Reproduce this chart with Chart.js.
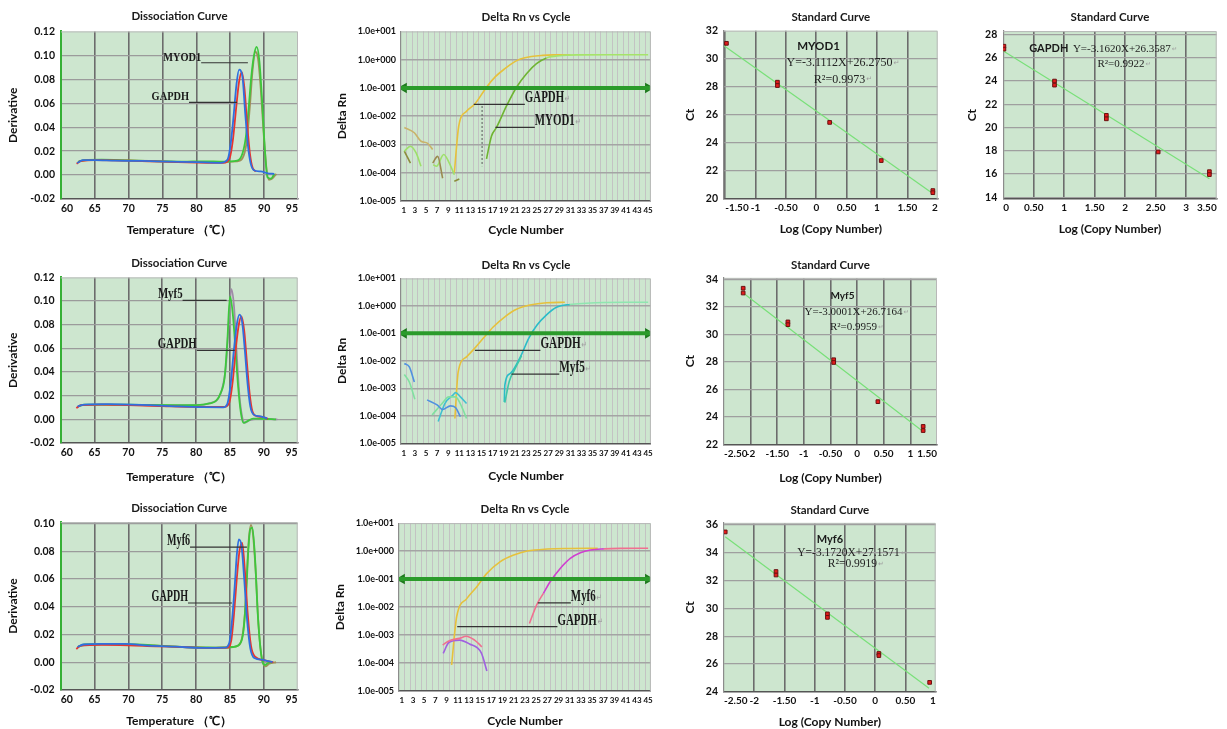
<!DOCTYPE html>
<html lang="en">
<head>
<meta charset="utf-8">
<title>qPCR dissociation, amplification and standard curves</title>
<script src="https://cdn.jsdelivr.net/npm/chart.js@4.4.1/dist/chart.umd.min.js"></script>
<style>
  html, body { margin: 0; padding: 0; background: #fff; }
  body { position: relative; width: 1227px; height: 729px; overflow: hidden; }
  canvas { position: absolute; display: block; }
</style>
</head>
<body>
<script>
const SANS = 'Lato, "Open Sans", sans-serif';
const SERIF = '"Liberation Serif", "DejaVu Serif", serif';

// ---------- tick values ----------
const meltTempTicks = [60, 65, 70, 75, 80, 85, 90, 95];
const meltDerivTicks = [-0.02, 0, 0.02, 0.04, 0.06, 0.08, 0.10, 0.12];
const meltDerivTicksLow = [-0.02, 0, 0.02, 0.04, 0.06, 0.08, 0.10];
const ampRnTicks = [1e-5, 1e-4, 1e-3, 1e-2, 1e-1, 1e0, 1e1];
const ampCycleLabels = [1, 3, 5, 7, 9, 11, 13, 15, 17, 19, 21, 23, 25, 27, 29, 31, 33, 35, 37, 39, 41, 43, 45];
const ampThreshold = 0.1;
const std1LogTicks = [-1.5, -1, -0.5, 0, 0.5, 1, 1.5, 2];
const std1CtTicks = [20, 22, 24, 26, 28, 30, 32];
const std2LogTicks = [0, 0.5, 1, 1.5, 2, 2.5, 3, 3.5];
const std2CtTicks = [14, 16, 18, 20, 22, 24, 26, 28];
const std3LogTicks = [-2.5, -2, -1.5, -1, -0.5, 0, 0.5, 1, 1.5];
const std3CtTicks = [22, 24, 26, 28, 30, 32, 34];
const std4LogTicks = [-2.5, -2, -1.5, -1, -0.5, 0, 0.5, 1];
const std4CtTicks = [24, 26, 28, 30, 32, 34, 36];

// ---------- dissociation curves: MYOD1 / GAPDH ----------
const m1GapdhBlueT = [62.4, 63.2, 65, 68, 72, 76, 80, 83.5, 84.6, 85.1, 85.5, 85.9, 86.3, 86.8, 87.2, 87.6, 88.0, 88.5, 89.5, 90.5, 91.5];
const m1GapdhBlueD = [0.010, 0.0125, 0.0125, 0.012, 0.0118, 0.0112, 0.0108, 0.0102, 0.013, 0.028, 0.050, 0.075, 0.088, 0.082, 0.052, 0.025, 0.010, 0.004, 0.003, 0.0015, 0.001];
const m1GapdhRedT = [62.3, 63, 65, 70, 75, 80, 84, 84.9, 85.4, 85.9, 86.3, 86.7, 87.1, 87.5, 87.9, 88.3, 88.8];
const m1GapdhRedD = [0.0095, 0.0118, 0.0125, 0.012, 0.0112, 0.0105, 0.0102, 0.014, 0.030, 0.058, 0.078, 0.086, 0.072, 0.042, 0.018, 0.006, 0.003];
const m1MyodGreenT = [62.5, 63.5, 66, 70, 75, 78, 81, 84, 86, 86.8, 87.3, 87.7, 88.1, 88.5, 88.9, 89.3, 89.7, 90.1, 90.5, 91, 91.5];
const m1MyodGreenD = [0.011, 0.0125, 0.0128, 0.0122, 0.0115, 0.0112, 0.0115, 0.0112, 0.012, 0.018, 0.032, 0.055, 0.082, 0.100, 0.107, 0.095, 0.062, 0.022, -0.002, -0.003, 0.001];
const m1MyodOliveT = [62.6, 64, 67, 71, 75, 79, 83, 86, 86.8, 87.4, 87.9, 88.3, 88.7, 89.1, 89.5, 89.9, 90.3, 90.7, 91.2, 91.8];
const m1MyodOliveD = [0.0115, 0.0125, 0.0125, 0.012, 0.0115, 0.011, 0.011, 0.0115, 0.014, 0.027, 0.058, 0.088, 0.103, 0.097, 0.072, 0.037, 0.008, -0.004, -0.003, 0.001];

// ---------- dissociation curves: Myf5 / GAPDH ----------
const m2Myf5GreenT = [62.6, 63.5, 67, 72, 77, 80, 82, 83, 83.6, 84.2, 84.6, 85.0, 85.4, 85.8, 86.2, 86.6, 87.0, 87.6, 88.4, 90, 91.8];
const m2Myf5GreenD = [0.011, 0.0125, 0.0125, 0.0122, 0.012, 0.012, 0.0135, 0.016, 0.022, 0.035, 0.065, 0.104, 0.090, 0.060, 0.028, 0.006, -0.003, -0.0015, 0.0006, 0.0005, 0];
const m2Myf5MauveT = [62.4, 63.3, 66, 70, 75, 80, 82.2, 83.2, 83.8, 84.4, 84.8, 85.2, 85.6, 86.0, 86.4, 86.8, 87.2, 87.8, 89, 92];
const m2Myf5MauveD = [0.0105, 0.012, 0.0125, 0.0123, 0.0118, 0.012, 0.014, 0.017, 0.025, 0.045, 0.080, 0.110, 0.095, 0.055, 0.020, 0.002, -0.003, -0.001, 0.0005, 0];
const m2GapdhBlueT = [62.5, 63.5, 67, 72, 77, 81, 84, 84.6, 85.1, 85.6, 86.0, 86.4, 86.8, 87.2, 87.6, 88.0, 88.5, 89.5, 90.5];
const m2GapdhBlueD = [0.011, 0.0125, 0.0128, 0.0122, 0.011, 0.0103, 0.0102, 0.013, 0.030, 0.060, 0.080, 0.0885, 0.082, 0.058, 0.030, 0.011, 0.004, 0.0025, 0.0008];
const m2GapdhRedT = [62.3, 63, 66, 70, 75, 79, 84.2, 84.9, 85.4, 85.9, 86.3, 86.7, 87.1, 87.5, 87.9, 88.3, 88.8, 89.8, 90.6];
const m2GapdhRedD = [0.0095, 0.012, 0.0125, 0.012, 0.0112, 0.0105, 0.0105, 0.014, 0.032, 0.062, 0.080, 0.087, 0.075, 0.048, 0.022, 0.007, 0.003, 0.002, 0.0005];

// ---------- dissociation curves: Myf6 / GAPDH ----------
const m3GapdhBlueT = [62.5, 63.3, 66, 69.5, 73, 77, 81, 84.3, 84.9, 85.3, 85.7, 86.0, 86.3, 86.7, 87.1, 87.5, 88.0, 88.6, 89.9, 90.4, 91.3];
const m3GapdhBlueD = [0.011, 0.0128, 0.0132, 0.0132, 0.012, 0.0112, 0.0103, 0.0105, 0.014, 0.030, 0.055, 0.077, 0.0885, 0.084, 0.060, 0.032, 0.010, 0.003, 0.0017, 0.001, 0.0003];
const m3GapdhRedT = [62.3, 63, 66, 70, 74, 78, 82, 84.6, 85.2, 85.6, 86.0, 86.4, 86.8, 87.2, 87.6, 88.1, 88.7, 90, 91.4];
const m3GapdhRedD = [0.0095, 0.012, 0.0125, 0.0122, 0.0115, 0.011, 0.0104, 0.0105, 0.016, 0.035, 0.060, 0.080, 0.086, 0.066, 0.036, 0.012, 0.004, 0.0015, 0];
const m3Myf6GreenT = [62.5, 63.5, 67, 71, 75, 79, 83, 85.5, 86.5, 87.0, 87.4, 87.7, 88.0, 88.3, 88.7, 89.1, 89.5, 89.9, 90.2, 90.6, 91.2];
const m3Myf6GreenD = [0.011, 0.0128, 0.013, 0.0128, 0.0118, 0.0108, 0.0105, 0.011, 0.0135, 0.023, 0.050, 0.080, 0.096, 0.097, 0.075, 0.035, 0.010, -0.001, -0.002, -0.0005, 0];
const m3Myf6OliveT = [62.6, 64, 68, 72, 76, 80, 84, 86.2, 86.8, 87.2, 87.5, 87.8, 88.1, 88.4, 88.8, 89.2, 89.6, 90.0, 90.3, 90.8, 91.8];
const m3Myf6OliveD = [0.0115, 0.0128, 0.013, 0.0125, 0.0115, 0.0105, 0.0105, 0.012, 0.018, 0.035, 0.065, 0.090, 0.099, 0.092, 0.065, 0.028, 0.006, -0.002, -0.003, -0.001, 0];

// ---------- amplification (cycle → delta Rn): MYOD1 / GAPDH ----------
const a1GapdhC = [10.1, 10.9, 12.3, 13.8, 15.9, 17.5, 19.2, 21.0, 22.0, 24.0, 26.0, 28.0, 31.0];
const a1GapdhV = [1e-4, 4.5e-3, 1.5e-2, 2.7e-2, 0.106, 0.25, 0.48, 0.85, 1.06, 1.3, 1.42, 1.48, 1.5];
const a1MyodC = [15.9, 16.8, 17.7, 19.5, 21.3, 23.1, 24.9, 26.7, 29.0, 33.0, 38.0, 45.0];
const a1MyodV = [3.1e-4, 2e-3, 4e-3, 2.3e-2, 0.106, 0.32, 0.72, 1.15, 1.38, 1.48, 1.5, 1.5];
const a1NoiseAC = [1.1, 2.9, 4.1, 5.3, 6.2];
const a1NoiseAV = [4e-3, 2.6e-3, 1.3e-3, 1.1e-3, 6.6e-4];
const a1NoiseBC = [1.1, 2.2, 3.2, 4.1];
const a1NoiseBV = [5.8e-4, 8.7e-4, 5.1e-4, 1.7e-4];
const a1NoiseCC = [1.1, 2.2];
const a1NoiseCV = [5.8e-4, 2.2e-4];
const a1NoiseDC = [6.2, 7.1, 8.0];
const a1NoiseDV = [2.2e-4, 3.8e-4, 6.4e-5];
const a1NoiseEC = [6.3, 6.9, 8.2, 9.2, 10.1];
const a1NoiseEV = [1.9e-4, 1.7e-4, 4.4e-4, 2.2e-4, 8.5e-5];
const a1NoiseFC = [10.1, 11.0];
const a1NoiseFV = [5e-5, 6e-5];
const a1CtMarkC = [15.1, 15.1];
const a1CtMarkV = [2.3e-2, 1.7e-4];

// ---------- amplification: Myf5 / GAPDH ----------
const a2GapdhC = [10.2, 10.8, 12.3, 13.5, 15.3, 17.1, 19.2, 21.3, 23.7, 26.7, 30.0];
const a2GapdhV = [8e-5, 4e-3, 1.4e-2, 2.5e-2, 6.6e-2, 0.17, 0.40, 0.75, 1.07, 1.3, 1.35];
const a2Myf5C = [19.1, 19.2, 20.2, 22.0, 23.5, 25.0, 26.7, 28.5, 30.9, 33.9, 37.0, 41.0, 45.0];
const a2Myf5V = [3.2e-4, 1.3e-3, 3.5e-3, 1.4e-2, 6.6e-2, 0.2, 0.47, 0.89, 1.13, 1.25, 1.33, 1.36, 1.36];
const a2Myf5bC = [19.2, 20.0, 21.0, 22.2];
const a2Myf5bV = [3e-4, 1.8e-3, 5e-3, 1.5e-2];
const a2NoiseAC = [1.1, 2.0, 2.9];
const a2NoiseAV = [8e-3, 6e-3, 1.7e-3];
const a2NoiseBC = [1.1, 2.0, 3.0];
const a2NoiseBV = [3.2e-3, 1.7e-3, 4e-4];
const a2NoiseCC = [5.2, 7.0, 8.0, 9.4, 10.3, 11.2];
const a2NoiseCV = [3.8e-4, 2.5e-4, 1.7e-4, 2.3e-4, 2e-4, 9.3e-5];
const a2NoiseDC = [6.1, 7.9, 9.1, 10.3, 11.5, 12.3];
const a2NoiseDV = [1.07e-4, 2.8e-4, 4.9e-4, 4.9e-4, 2e-4, 8e-5];
const a2NoiseEC = [7.2, 8.4, 9.9, 10.3, 11.2, 12.3];
const a2NoiseEV = [6.2e-5, 2.8e-4, 5.8e-4, 7e-4, 4.9e-4, 2.8e-4];

// ---------- amplification: Myf6 / GAPDH ----------
const a3GapdhC = [9.9, 10.8, 12.6, 14.4, 16.2, 18.6, 21.0, 23.4, 27.0, 31.0, 36.0];
const a3GapdhV = [8.5e-5, 4.5e-3, 2e-2, 5.3e-2, 0.16, 0.42, 0.72, 1.0, 1.18, 1.24, 1.26];
const a3Myf6C = [23.8, 25.1, 26.3, 27.5, 29.3, 31.1, 32.9, 34.7, 37.1, 40.0, 45.0];
const a3Myf6V = [2.6e-3, 1.2e-2, 3.1e-2, 8e-2, 0.24, 0.55, 0.87, 1.09, 1.2, 1.25, 1.26];
const a3NoiseAC = [8.3, 9.5, 11.3, 12.5, 14.0, 15.3];
const a3NoiseAV = [4.4e-4, 6.3e-4, 7.6e-4, 9.1e-4, 6.6e-4, 3.8e-4];
const a3NoiseBC = [8.4, 9.4, 11.3, 13.1, 15.2, 16.2];
const a3NoiseBV = [2.2e-4, 5.4e-4, 6.6e-4, 4.8e-4, 2.3e-4, 5.2e-5];

// ---------- standard curves (log copy number → Ct) ----------
const s1Log = [-1.48, -0.64, -0.64, 0.22, 1.07, 1.92, 1.92];
const s1Ct = [31.1, 28.33, 28.09, 25.46, 22.74, 20.6, 20.45];
const s1FitLog = [-1.53, 1.93];
const s1FitCt = [30.95, 20.35];
const s2Log = [0.01, 0.01, 0.84, 0.84, 1.69, 1.69, 2.54, 3.38, 3.38];
const s2Ct = [27.0, 26.75, 24.0, 23.65, 21.05, 20.75, 17.9, 16.2, 15.95];
const s2FitLog = [0.0, 3.38];
const s2FitCt = [26.58, 15.6];
const s3Log = [-2.14, -2.14, -1.30, -1.30, -0.44, -0.44, 0.39, 1.24, 1.24];
const s3Ct = [33.35, 33.0, 30.9, 30.7, 28.15, 27.95, 25.1, 23.3, 23.0];
const s3FitLog = [-2.17, 1.25];
const s3FitCt = [33.1, 22.9];
const s4Log = [-2.48, -1.64, -1.64, -0.79, -0.79, 0.06, 0.06, 0.90];
const s4Ct = [35.5, 32.65, 32.4, 29.6, 29.35, 26.75, 26.6, 24.67];
const s4FitLog = [-2.48, 0.89];
const s4FitCt = [35.15, 24.25];

// ---------- panel geometry (plot box, title centres) ----------
const LAYOUT = {
  c1:  {L: 61,     T: 32,    R: 298,    B: 199,   tY: 17,    xY: 230,   yX: 13.3},
  c2:  {L: 401,    T: 32,    R: 651,    B: 201,   tY: 18,    xY: 230,   yX: 341.7},
  c3:  {L: 724,    T: 31.3,  R: 937.7,  B: 199,   tY: 18,    xY: 229.3, yX: 690},
  c4:  {L: 1003.3, T: 31.7,  R: 1216.7, B: 199,   tY: 18,    xY: 229,   yX: 971.7},
  c5:  {L: 60.7,   T: 278,   R: 297.7,  B: 443,   tY: 263.3, xY: 476.7, yX: 13.3},
  c6:  {L: 401,    T: 279,   R: 651,    B: 443.3, tY: 265.7, xY: 475.7, yX: 341.7},
  c7:  {L: 724,    T: 278.5, R: 937,    B: 444.3, tY: 265.7, xY: 477.7, yX: 690},
  c8:  {L: 60.7,   T: 522.7, R: 297.7,  B: 690,   tY: 508.3, xY: 721,   yX: 13.3},
  c9:  {L: 399,    T: 523.7, R: 651,    B: 691,   tY: 510,   xY: 721,   yX: 340},
  c10: {L: 724,    T: 523.5, R: 935.7,  B: 691.7, tY: 510.7, xY: 722.3, yX: 690},
};

const KIND = {
  melt: {xTick: 10.5, yTick: 10.5, xPad: 3, yPad: 6, vCol: '#6c6c6c', vW: 1.6, hCol: '#9b9b9b', hW: 1.3, left: '#35b035', leftW: 2, lineW: 1.8},
  amp:  {xTick: 8,    yTick: 9,    xPad: 5, yPad: 5, vCol: '#c3c3c3', vW: 1,   hCol: '#a4a4a4', hW: 1.6, left: '#8c8c8c', leftW: 1.2, lineW: 1.6},
  std:  {xTick: 10,   yTick: 10.5, xPad: 3, yPad: 6, vCol: '#6c6c6c', vW: 1.6, hCol: '#9f9f9f', hW: 1.2, left: '#8c8c8c', leftW: 1.2, lineW: 1.2},
};

function frame(p) {
  const left = Math.floor(p.yX - 7.2);
  const top = Math.floor(p.tY - 7.2);
  const right = Math.ceil(p.R + 6);
  const bottom = Math.ceil(p.xY + 7.2);
  const w = right - left, h = bottom - top;
  const cv = document.createElement('canvas');
  cv.width = w; cv.height = h;
  cv.style.left = left + 'px'; cv.style.top = top + 'px';
  cv.style.width = w + 'px'; cv.style.height = h + 'px';
  document.body.appendChild(cv);
  const tPt = p.tY - 7.2 - top;
  return {
    cv,
    yW: p.L - left,
    xH: bottom - p.B,
    padR: right - p.R,
    tPt: tPt,
    tPb: p.T - top - tPt - 14.4,
    yPt: p.yX - 7.2 - left,
    xPb: bottom - 7.2 - p.xY,
  };
}

function pts(xs, ys) {
  return xs.map((x, i) => ({x: x, y: ys[i]}));
}

function curve(xs, ys, color, extra) {
  return Object.assign({
    data: pts(xs, ys),
    borderColor: color, pointRadius: 0,
    cubicInterpolationMode: 'monotone', fill: false,
  }, extra || {});
}

function leader(xs, y, extra) {
  return Object.assign({
    data: pts(xs, xs.map(() => y)),
    borderColor: '#333', borderWidth: 1.2, pointRadius: 0, order: -2,
  }, extra || {});
}

function thresholdSets() {
  return [
    {data: pts([0.5, 45.5], [ampThreshold, ampThreshold]), borderColor: '#2b9b2b', borderWidth: 4, pointRadius: 0, order: -1},
    {data: pts([1, 45], [ampThreshold, ampThreshold]), showLine: false, pointStyle: 'triangle',
     pointRotation: [-90, 90], pointRadius: 4.5, pointBackgroundColor: '#2b9b2b', pointBorderColor: '#1d7a1d', order: -1},
  ];
}

function scatter(xs, ys) {
  return {data: pts(xs, ys), showLine: false, pointStyle: 'rect', pointRadius: 2.6,
    pointBackgroundColor: '#e31b1b', pointBorderColor: '#6a1212', pointBorderWidth: 1, order: -1};
}

// background of the plot box plus thin top/right frame
const plotBg = {
  id: 'plotBg',
  beforeDraw(chart) {
    const {ctx, chartArea: a} = chart;
    ctx.save();
    ctx.fillStyle = '#cde6cf';
    ctx.fillRect(a.left, a.top, a.width, a.height);
    ctx.restore();
  },
  afterDraw(chart) {
    const {ctx, chartArea: a} = chart;
    ctx.save();
    ctx.strokeStyle = '#b8b8b8';
    ctx.lineWidth = 1;
    ctx.beginPath();
    ctx.moveTo(a.left, a.top + 0.5);
    ctx.lineTo(a.right - 0.5, a.top + 0.5);
    ctx.lineTo(a.right - 0.5, a.bottom);
    ctx.stroke();
    ctx.restore();
  }
};

// gene labels and regression text, anchored in data space
const notesPlugin = {
  id: 'notes',
  afterDatasetsDraw(chart, args, opts) {
    const {ctx} = chart;
    const xs = chart.scales.x, ys = chart.scales.y;
    (opts.items || []).forEach(n => {
      const px = xs.getPixelForValue(n.x);
      const py = ys.getPixelForValue(n.y) + (n.dy || 0);
      ctx.save();
      ctx.font = (n.weight || 'normal') + ' ' + n.size + 'px ' + n.family;
      ctx.fillStyle = n.color || '#1a1a1a';
      ctx.textAlign = n.align || 'center';
      ctx.textBaseline = n.base || 'alphabetic';
      ctx.translate(px, py);
      ctx.scale(n.sx || 1, 1);
      ctx.fillText(n.text, 0, 0);
      if (n.mark) {
        const w = ctx.measureText(n.text).width;
        const end = ctx.textAlign === 'left' ? w : ctx.textAlign === 'center' ? w / 2 : 0;
        ctx.font = (n.size * 0.6) + 'px "DejaVu Sans"';
        ctx.fillStyle = '#a0a0a0';
        ctx.textAlign = 'left';
        ctx.fillText('\u21B5', end + 1, 0);
      }
      ctx.restore();
    });
  }
};

const fmt2 = v => v.toFixed(2);
const fmtLog = v => {
  const e = Math.round(Math.log10(v));
  return '1.0e' + (e < 0 ? '-' : '+') + String(Math.abs(e)).padStart(3, '0');
};
const fmtStd = v => Number.isInteger(v) ? String(v) : v.toFixed(2);

function makeChart(id, kind, titles, sc, datasets, notes) {
  const f = frame(LAYOUT[id]);
  const k = KIND[kind];
  const axisFont = {family: SANS, size: 12, weight: 'bold'};
  const clear = 'rgba(0,0,0,0)';
  const near = (a, b) => Math.abs(a - b) < 1e-9 * Math.max(1, Math.abs(b));
  const isEdge = (v, lo, hi) => near(v, lo) || near(v, hi);
  datasets.forEach(d => { if (d.borderWidth === undefined) d.borderWidth = k.lineW; });

  return new Chart(f.cv, {
    type: 'line',
    data: {datasets: datasets},
    options: {
      responsive: false,
      animation: false,
      events: [],
      layout: {padding: {left: 0, top: 0, right: f.padR, bottom: 0}},
      plugins: {
        legend: {display: false},
        tooltip: {enabled: false},
        title: {
          display: true, text: titles[0], fullSize: false, color: '#1a1a1a',
          font: {family: SANS, size: 11.5, weight: 'bold'},
          padding: {top: f.tPt, bottom: f.tPb}
        },
        notes: {items: notes}
      },
      scales: {
        x: {
          type: 'linear', min: sc.xMin, max: sc.xMax,
          afterBuildTicks: s => { s.ticks = sc.xTicks.map(v => ({value: v})); },
          afterFit: s => { s.height = f.xH; },
          ticks: {
            autoSkip: false, maxRotation: 0, minRotation: 0, align: 'inner',
            padding: k.xPad, color: '#111', font: {family: SANS, size: k.xTick, weight: 'bold'}, callback: sc.xFmt
          },
          grid: {
            drawTicks: false, lineWidth: k.vW,
            color: c => {
              const v = c.tick ? c.tick.value : NaN;
              if (isEdge(v, sc.xMin, sc.xMax)) return clear;
              if (sc.xGridShow && !sc.xGridShow(v)) return clear;
              return k.vCol;
            }
          },
          border: {color: '#555', width: 1.5},
          title: {display: true, text: titles[1], color: '#111', font: axisFont, padding: {top: 0, bottom: f.xPb}}
        },
        y: {
          type: sc.yType || 'linear', min: sc.yMin, max: sc.yMax,
          afterBuildTicks: s => { s.ticks = sc.yTicks.map(v => ({value: v})); },
          afterFit: s => { s.width = f.yW; },
          ticks: {padding: k.yPad, color: '#111', font: {family: SANS, size: k.yTick, weight: 'bold'}, callback: sc.yFmt},
          grid: {
            drawTicks: false, lineWidth: k.hW,
            color: c => (c.tick && isEdge(c.tick.value, sc.yMin, sc.yMax)) ? clear : k.hCol
          },
          border: {color: k.left, width: k.leftW},
          title: {display: true, text: titles[2], color: '#111', font: axisFont, padding: {top: f.yPt, bottom: 0}}
        }
      }
    },
    plugins: [plotBg, notesPlugin]
  });
}

// ---------- helpers for the three panel types ----------
const MELT_TITLES = ['Dissociation Curve', 'Temperature \uFF08\u2103\uFF09', 'Derivative'];
const AMP_TITLES = ['Delta Rn vs Cycle', 'Cycle Number', 'Delta Rn'];
const STD_TITLES = ['Standard Curve', 'Log (Copy Number)', 'Ct'];

const ampTickVals = [];
for (let c = 0.5; c <= 45.5; c += 0.5) ampTickVals.push(c);
const ampScales = {
  xMin: 0.5, xMax: 45.5, xTicks: ampTickVals,
  xFmt: v => ampCycleLabels.includes(v) ? String(v) : '',
  xGridShow: v => !Number.isInteger(v),
  yType: 'logarithmic', yMin: 1e-5, yMax: 1e1, yTicks: ampRnTicks, yFmt: fmtLog
};

function leftLabel(text, x, y, size, sx) {
  return {x: x, y: y, dy: -2, text: text, align: 'left', size: size, sx: sx, family: SERIF, weight: 'bold', mark: true};
}
function rightLabel(text, x, y, size, sx) {
  return {x: x, y: y, dy: -2, text: text, align: 'right', size: size, sx: sx, family: SERIF, weight: 'bold'};
}
function stdNotes(gene, gx, gy, gSize, eq, r2, ex, ey, rx, ry, eSize) {
  return [
    {x: gx, y: gy, text: gene, base: 'middle', size: gSize, family: SANS, weight: 'bold'},
    {x: ex, y: ey, text: eq, base: 'middle', size: eSize, family: SERIF, mark: true, color: '#222'},
    {x: rx, y: ry, text: r2, base: 'middle', size: eSize, family: SERIF, mark: true, color: '#222'},
  ];
}

// ---------- row 1 ----------
makeChart('c1', 'melt', MELT_TITLES,
  {xMin: 60, xMax: 95, xTicks: meltTempTicks, xFmt: v => String(v), yMin: -0.02, yMax: 0.12, yTicks: meltDerivTicks, yFmt: fmt2},
  [
    curve(m1GapdhBlueT, m1GapdhBlueD, '#2f6fe0'),
    curve(m1GapdhRedT, m1GapdhRedD, '#e8352f'),
    curve(m1MyodGreenT, m1MyodGreenD, '#3cc83c'),
    curve(m1MyodOliveT, m1MyodOliveD, '#a0905a'),
    leader([80.7, 87.6], 0.0938),
    leader([78.9, 86.0], 0.0607),
  ],
  [rightLabel('MYOD1', 80.7, 0.0938, 11.5, 0.9), rightLabel('GAPDH', 78.9, 0.0607, 11.5, 0.9)]
);

makeChart('c2', 'amp', AMP_TITLES, ampScales,
  [
    curve(a1NoiseAC, a1NoiseAV, '#c9b36a'),
    curve(a1NoiseBC, a1NoiseBV, '#9ee06a'),
    curve(a1NoiseCC, a1NoiseCV, '#8c8c3c'),
    curve(a1NoiseDC, a1NoiseDV, '#9a8a50'),
    curve(a1NoiseEC, a1NoiseEV, '#9ee06a'),
    curve(a1NoiseFC, a1NoiseFV, '#8c8c3c'),
    curve(a1MyodC, a1MyodV, '#6fb432', {segment: {borderColor: c => c.p0.parsed.x >= 26.7 ? '#a6e46a' : undefined}}),
    curve(a1GapdhC, a1GapdhV, '#e6c13c'),
    ...thresholdSets(),
    leader([13.6, 22.8], 2.6e-2),
    leader([17.5, 24.6], 4e-3),
    leader(a1CtMarkC, 0, {data: pts(a1CtMarkC, a1CtMarkV), borderDash: [2, 2], borderColor: '#555', borderWidth: 1}),
  ],
  [leftLabel('GAPDH', 22.8, 2.6e-2, 16, 0.68), leftLabel('MYOD1', 24.6, 4e-3, 16, 0.68)]
);

makeChart('c3', 'std', STD_TITLES,
  {xMin: -1.52, xMax: 2.0, xTicks: std1LogTicks, xFmt: fmtStd, yMin: 20, yMax: 32, yTicks: std1CtTicks, yFmt: v => String(v)},
  [curve(s1FitLog, s1FitCt, '#79e079'), scatter(s1Log, s1Ct)],
  stdNotes('MYOD1', 0.037, 30.9, 11.5, 'Y=-3.1112X+26.2750', 'R\u00B2=0.9973', 0.383, 29.71, 0.383, 28.52, 12)
);

makeChart('c4', 'std', STD_TITLES,
  {xMin: 0, xMax: 3.5, xTicks: std2LogTicks, xFmt: fmtStd, yMin: 13.85, yMax: 28.3, yTicks: std2CtTicks, yFmt: v => String(v)},
  [curve(s2FitLog, s2FitCt, '#79e079'), scatter(s2Log, s2Ct)],
  stdNotes('GAPDH', 0.746, 26.78, 11, 'Y=-3.1620X+26.3587', 'R\u00B2=0.9922', 1.945, 26.72, 1.93, 25.42, 11)
);

// ---------- row 2 ----------
makeChart('c5', 'melt', MELT_TITLES,
  {xMin: 60, xMax: 95, xTicks: meltTempTicks, xFmt: v => String(v), yMin: -0.02, yMax: 0.12, yTicks: meltDerivTicks, yFmt: fmt2},
  [
    curve(m2GapdhBlueT, m2GapdhBlueD, '#2f6fe0'),
    curve(m2GapdhRedT, m2GapdhRedD, '#e8352f'),
    curve(m2Myf5GreenT, m2Myf5GreenD, '#3cc83c'),
    curve(m2Myf5MauveT, m2Myf5MauveD, '#a08aa8'),
    leader([78.0, 84.5], 0.1005),
    leader([80.1, 85.7], 0.0583),
  ],
  [rightLabel('Myf5', 78.0, 0.1005, 15.5, 0.7), rightLabel('GAPDH', 80.1, 0.0583, 15.5, 0.7)]
);

makeChart('c6', 'amp', AMP_TITLES, ampScales,
  [
    curve(a2NoiseAC, a2NoiseAV, '#5090e0'),
    curve(a2NoiseBC, a2NoiseBV, '#80e0a0'),
    curve(a2NoiseCC, a2NoiseCV, '#5090e0'),
    curve(a2NoiseDC, a2NoiseDV, '#80e0a0'),
    curve(a2NoiseEC, a2NoiseEV, '#40c0d0'),
    curve(a2Myf5bC, a2Myf5bV, '#3fc7a8'),
    curve(a2Myf5C, a2Myf5V, '#2bbcc8', {segment: {borderColor: c => c.p0.parsed.x >= 30.9 ? '#8fe6b0' : undefined}}),
    curve(a2GapdhC, a2GapdhV, '#e6c13c'),
    ...thresholdSets(),
    leader([13.8, 25.6], 2.4e-2),
    leader([20.4, 29.0], 3.3e-3),
  ],
  [leftLabel('GAPDH', 25.6, 2.4e-2, 16, 0.7), leftLabel('Myf5', 29.0, 3.3e-3, 16, 0.7)]
);

makeChart('c7', 'std', STD_TITLES,
  {xMin: -2.5, xMax: 1.5, xTicks: std3LogTicks, xFmt: fmtStd, yMin: 22, yMax: 34.1, yTicks: std3CtTicks, yFmt: v => String(v)},
  [curve(s3FitLog, s3FitCt, '#79e079'), scatter(s3Log, s3Ct)],
  stdNotes('Myf5', -0.275, 32.83, 10, 'Y=-3.0001X+26.7164', 'R\u00B2=0.9959', -0.068, 31.58, -0.068, 30.53, 11)
);

// ---------- row 3 ----------
makeChart('c8', 'melt', MELT_TITLES,
  {xMin: 60, xMax: 95, xTicks: meltTempTicks, xFmt: v => String(v), yMin: -0.02, yMax: 0.101, yTicks: meltDerivTicksLow, yFmt: fmt2},
  [
    curve(m3GapdhBlueT, m3GapdhBlueD, '#2f6fe0'),
    curve(m3GapdhRedT, m3GapdhRedD, '#e8352f'),
    curve(m3Myf6GreenT, m3Myf6GreenD, '#3cc83c'),
    curve(m3Myf6OliveT, m3Myf6OliveD, '#a0905a'),
    leader([79.1, 87.5], 0.0829),
    leader([78.8, 85.3], 0.0427),
  ],
  [rightLabel('Myf6', 79.1, 0.0829, 16, 0.63), rightLabel('GAPDH', 78.8, 0.0427, 16, 0.63)]
);

makeChart('c9', 'amp', AMP_TITLES, ampScales,
  [
    curve(a3NoiseAC, a3NoiseAV, '#f07090'),
    curve(a3NoiseBC, a3NoiseBV, '#a060e0'),
    curve(a3Myf6C, a3Myf6V, '#d040d0', {segment: {borderColor: c => (c.p0.parsed.x < 26.3 || c.p0.parsed.x >= 37.1) ? '#f07090' : undefined}}),
    curve(a3GapdhC, a3GapdhV, '#e6c13c'),
    ...thresholdSets(),
    leader([25.3, 31.2], 1.4e-2),
    leader([10.9, 28.8], 2.0e-3),
  ],
  [leftLabel('Myf6', 31.2, 1.4e-2, 16.5, 0.66), leftLabel('GAPDH', 28.8, 2.0e-3, 16.5, 0.66)]
);

makeChart('c10', 'std', STD_TITLES,
  {xMin: -2.5, xMax: 1.0, xTicks: std4LogTicks, xFmt: fmtStd, yMin: 24, yMax: 36.15, yTicks: std4CtTicks, yFmt: v => String(v)},
  [curve(s4FitLog, s4FitCt, '#79e079'), scatter(s4Log, s4Ct)],
  stdNotes('Myf6', -0.748, 34.97, 11, 'Y=-3.1720X+27.1571', 'R\u00B2=0.9919', -0.442, 34.0, -0.376, 33.16, 11.5)
);
</script>
</body>
</html>
